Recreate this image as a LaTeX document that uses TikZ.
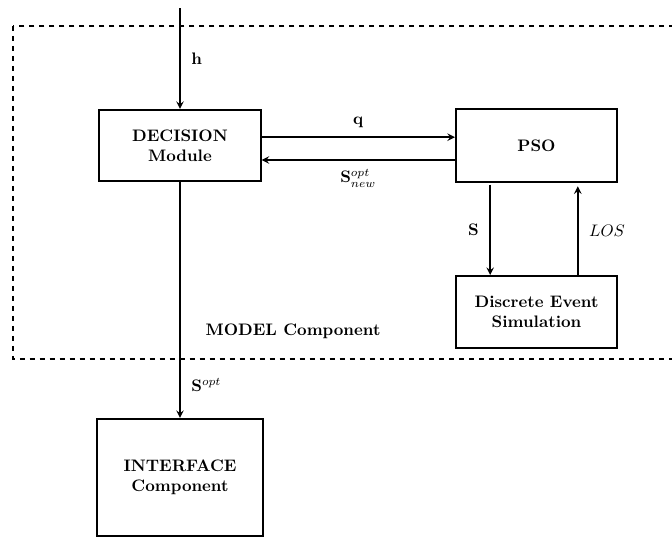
\documentclass[tikz,border=0pt]{standalone}
\usepackage{amsmath}
\usetikzlibrary{arrows}
\usetikzlibrary{math}

\tikzset{
  block/.style={draw, line width=1.2pt, align=center, font=\bfseries, inner sep=2pt},
  flow/.style={-stealth, line width=1pt},
}

\begin{document}
\begin{tikzpicture}[x=0.0211cm, y=-0.0211cm]
\tikzmath{
\bw=3.40;
\bh=1.52;
}
\clip (0,0) rectangle (672,537);
%model frame
\draw[dashed, line width=0.7pt] (13,26) rectangle (700,359);
\node[font=\bfseries] (model) at (293,331) {MODEL Component};

%blocks
\node[block, minimum width=\bw cm, minimum height=1.50cm] (dec) at (180,145.5) {DECISION\\Module};
\node[block, minimum width=\bw cm, minimum height=1.54cm] (pso) at (536.5,145.5) {PSO};
\node[block, minimum width=\bw cm, minimum height=\bh cm] (des) at (536.5,312) {Discrete Event\\Simulation};
\node[block, minimum width=3.52cm, minimum height=2.47cm] (int) at (180,477.5) {INTERFACE\\Component};
\coordinate (in) at (180,8);

%connections
\draw[flow] (in) -- (dec.north) node[pos=0.5, right=3pt]{$\mathbf{h}$};
\draw[flow] ([yshift=5pt]dec.east) -- ([yshift=5pt]pso.west) node[midway, above=2pt]{$\mathbf{q}$};
\draw[flow] ([yshift=-8.7pt]pso.west) -- ([yshift=-8.7pt]dec.east) node[midway, below=2pt]{$\mathbf{S}^{opt}_{new}$};
\draw[flow] ([xshift=-27.8pt, yshift=-1pt]pso.south) -- ([xshift=-27.8pt]des.north) node[midway, left=3pt]{$\mathbf{S}$};
\draw[flow] ([xshift=24.8pt]des.north) -- ([xshift=24.8pt, yshift=-2pt]pso.south) node[midway, right=3pt]{$LOS$};
\draw[flow] (dec.south) -- (int.north) node[pos=0.86, right=3pt]{$\mathbf{S}^{opt}$};
\end{tikzpicture}
\end{document}
